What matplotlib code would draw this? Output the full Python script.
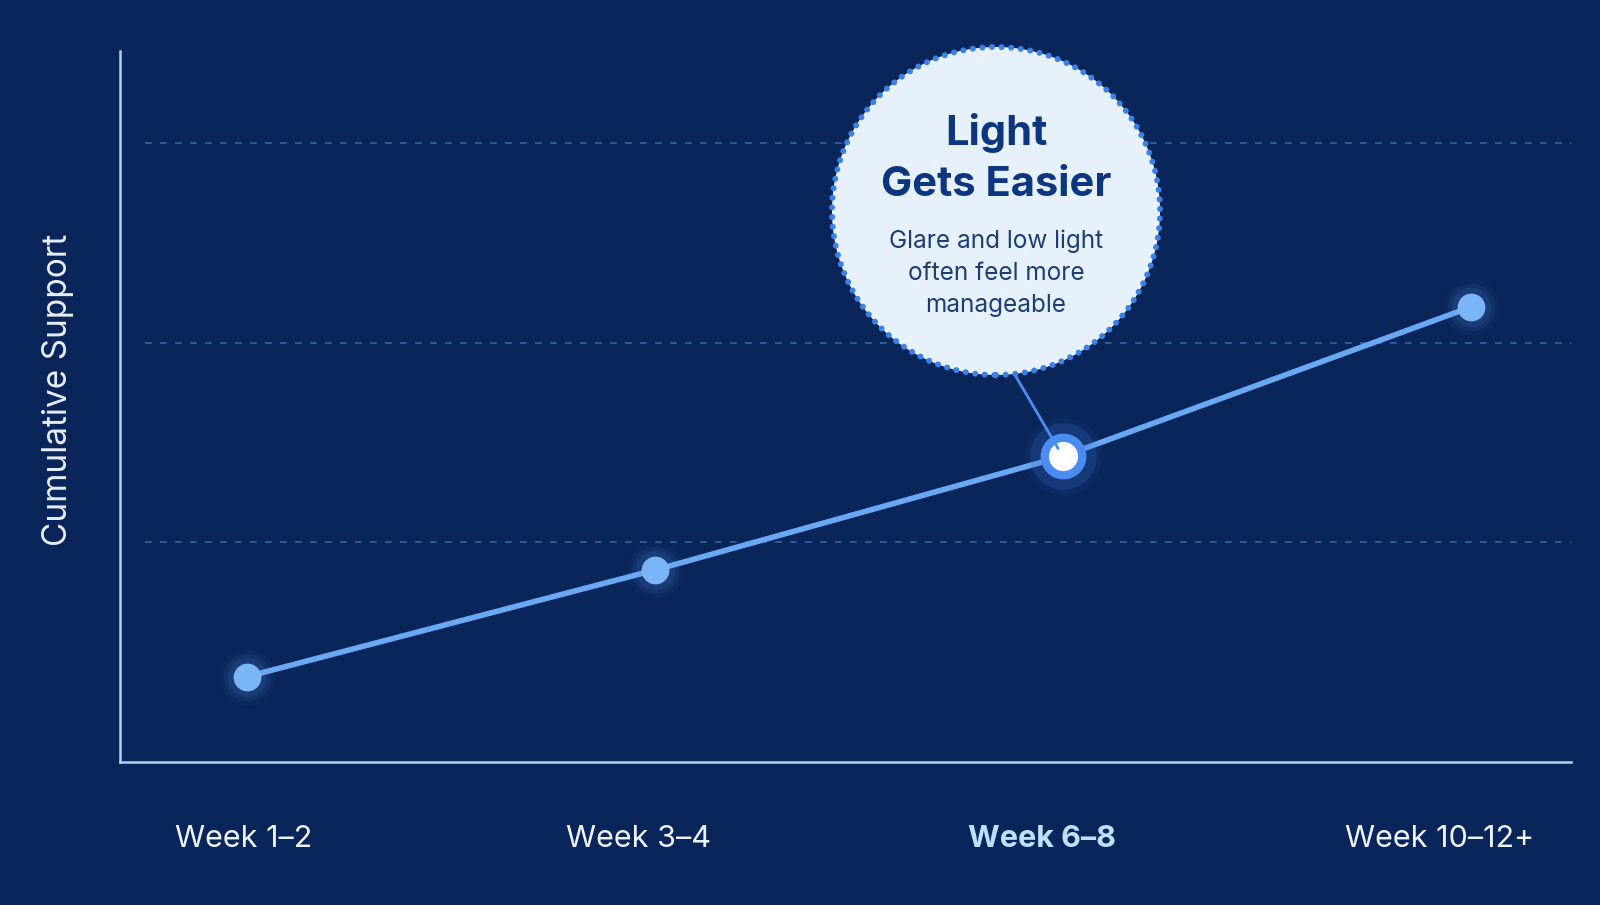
import numpy as np
import matplotlib.pyplot as plt
from matplotlib.patches import Circle

# Data
weeks = ['Week 1\u20132', 'Week 3\u20134', 'Week 6\u20138', 'Week 10\u201312+']
support = [12, 27, 43, 64]
grid_levels = [31, 59, 87]
highlight = 2

plt.rcParams['font.family'] = ['Inter', 'DejaVu Sans']

bg = '#0a2559'
line_col = '#69a8f2'

fig = plt.figure(figsize=(16, 9.05), dpi=100, facecolor=bg)
ax = fig.add_axes([0.07525, 0.158, 0.90688, 0.7856])
ax.set_facecolor(bg)

x = np.arange(len(weeks))
ax.set_xlim(-0.31, 3.246)
ax.set_ylim(0, 100)

# dashed gridlines
ax.hlines(grid_levels, -0.25, 3.246, colors='#3f72bd', linestyles=(0, (4, 5)),
          linewidth=1.2, alpha=0.8, zorder=1)

# line
ax.plot(x, support, color=line_col, linewidth=4, zorder=3, solid_capstyle='round')

# soft glow + markers for normal points
for i in range(len(weeks)):
    if i == highlight:
        continue
    for ms, a in [(40, 0.04), (34, 0.07), (28, 0.1)]:
        ax.plot(x[i], support[i], 'o', ms=ms, color='#6aa6f3', alpha=a, mec='none', zorder=2)
    ax.plot(x[i], support[i], 'o', ms=20, color='#7ab5f7', mec='none', zorder=4)

# highlighted point
hx, hy = x[highlight], support[highlight]
for ms, a in [(56, 0.08), (48, 0.18)]:
    ax.plot(hx, hy, 'o', ms=ms, color='#3b7de0', alpha=a, mec='none', zorder=4)
ax.plot(hx, hy, 'o', ms=33, color='#4b8cf0', mec='none', zorder=5)
ax.plot(hx, hy, 'o', ms=21, color='#ffffff', mec='none', zorder=6)

# spines
for s in ['top', 'right']:
    ax.spines[s].set_visible(False)
for s in ['left', 'bottom']:
    ax.spines[s].set_color('#b3cff2')
    ax.spines[s].set_linewidth(1.8)

# week labels sit slightly left of the points
ax.set_yticks([])
ax.set_xticks(x - np.array([0.008, 0.04, 0.052, 0.078]))
ax.set_xticklabels(weeks, fontsize=22, color='#eef4ff')
ax.tick_params(axis='x', length=0, pad=45)
lbl = ax.get_xticklabels()[highlight]
lbl.set_fontweight('bold')
lbl.set_color('#bfe0ff')

ax.set_ylabel('Cumulative Support', fontsize=24, color='#e8eefb', va='center')
ax.yaxis.set_label_coords(-0.043, 0.523)

# callout bubble (placed in figure inches)
cx, cy, r = 9.96, 6.94, 1.64
circ = Circle((cx, cy), r, transform=fig.dpi_scale_trans, facecolor='#e6f1fc',
              edgecolor='#3a82e8', linewidth=4.3, linestyle=(0, (0.01, 1.6)),
              capstyle='round', zorder=10, clip_on=False)
fig.add_artist(circ)

# connector from bubble to highlighted point
px, py = fig.dpi_scale_trans.inverted().transform(ax.transData.transform((hx, hy)))
conn = plt.Line2D([cx + 0.19, px - 0.05], [cy - r, py + 0.08], transform=fig.dpi_scale_trans,
                  color='#4b8cf0', linewidth=2, zorder=3)
fig.add_artist(conn)

fig.text(cx, 9.05 - 1.325, 'Light', transform=fig.dpi_scale_trans, ha='center', va='center',
         fontsize=30, fontweight='bold', color='#0d3680', zorder=11)
fig.text(cx, 9.05 - 1.85, 'Gets Easier', transform=fig.dpi_scale_trans, ha='center', va='center',
         fontsize=30, fontweight='bold', color='#0d3680', zorder=11)
fig.text(cx, 9.05 - 2.73, 'Glare and low light\noften feel more\nmanageable',
         transform=fig.dpi_scale_trans, ha='center', va='center', fontsize=17.5,
         color='#1d3d73', linespacing=1.5, zorder=11)

fig.savefig('out.png', dpi=100, facecolor=bg)
